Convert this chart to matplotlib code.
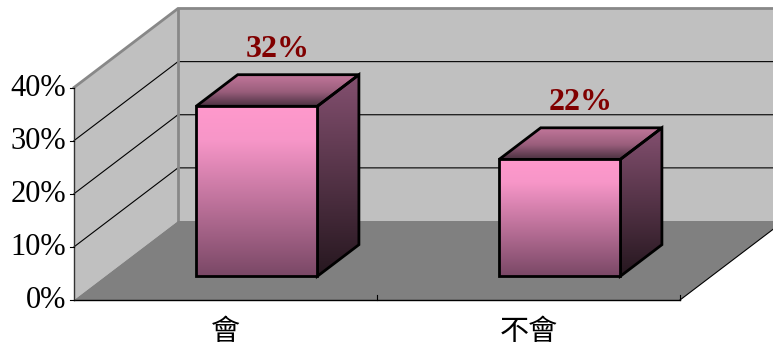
import numpy as np
import matplotlib
matplotlib.use("Agg")
import matplotlib.pyplot as plt
from matplotlib.patches import Polygon
from matplotlib.colors import to_rgb

# ---- data ----
categories = ["會", "不會"]
values = [32, 22]               # percent
value_labels = ["32%", "22%"]
y_ticks = [0, 10, 20, 30, 40]
y_tick_labels = ["0%", "10%", "20%", "30%", "40%"]
y_max = 40

# ---- layout of the pseudo-3D box (pixel space) ----
W, H = 773, 347
X0, Y0 = 74.0, 300.0            # front-left corner of the floor
PLOT_W = 606.0                  # width of the front floor edge
PX_PER_UNIT = 212.5 / y_max     # vertical pixels per percent
DEPTH_DX, DEPTH_DY = 104.0, -79.0
BAR_FRAC = 0.40                 # bar width as share of a category slot
BAR_D0, BAR_D1 = 0.30, 0.70     # bar depth span (0 = front, 1 = back)

WALL = "#C0C0C0"
FLOOR = "#808080"
EDGE_GRAY = "#888888"

fig = plt.figure(figsize=(W / 100, H / 100), dpi=100)
ax = fig.add_axes([0, 0, 1, 1])
ax.set_xlim(0, W)
ax.set_ylim(H, 0)
ax.axis("off")

slot = PLOT_W / len(categories)


def proj(x, v, d):
    """Map (front x, value, depth fraction) to pixel coordinates."""
    return (x + d * DEPTH_DX, Y0 - v * PX_PER_UNIT + d * DEPTH_DY)


def gradient_poly(pts, stops, zorder):
    """Fill a polygon with a vertical colour gradient (top -> bottom)."""
    poly = Polygon(pts, closed=True, facecolor="none", edgecolor="none")
    ax.add_patch(poly)
    ys = [p[1] for p in pts]
    xs = [p[0] for p in pts]
    n = 256
    t = np.linspace(0, 1, n)
    pos = [s[0] for s in stops]
    cols = np.array([to_rgb(s[1]) for s in stops])
    img = np.stack([np.interp(t, pos, cols[:, k]) for k in range(3)], axis=-1)
    img = img[:, None, :]
    im = ax.imshow(img, extent=(min(xs), max(xs), max(ys), min(ys)),
                   aspect="auto", interpolation="bilinear", zorder=zorder,
                   origin="upper")
    im.set_clip_path(poly)
    outline = Polygon(pts, closed=True, facecolor="none", edgecolor="black",
                      linewidth=2.0, joinstyle="miter", zorder=zorder + 0.1)
    ax.add_patch(outline)


# ---- walls ----
x_right = X0 + PLOT_W
back_wall = [proj(X0, 0, 1), proj(X0, y_max, 1),
             proj(x_right, y_max, 1), proj(x_right, 0, 1)]
side_wall = [proj(X0, 0, 0), proj(X0, y_max, 0),
             proj(X0, y_max, 1), proj(X0, 0, 1)]
ax.add_patch(Polygon(back_wall, closed=True, facecolor=WALL, edgecolor="none", zorder=1))
ax.add_patch(Polygon(side_wall, closed=True, facecolor=WALL, edgecolor="none", zorder=1))

# gridlines on both walls
for v in y_ticks[1:-1]:
    a, b, c = proj(X0, v, 0), proj(X0, v, 1), proj(x_right, v, 1)
    ax.plot([a[0], b[0], c[0]], [a[1], b[1], c[1]], color="black", lw=0.8, zorder=2)

# top and back edges of the walls
a, b, c = proj(X0, y_max, 0), proj(X0, y_max, 1), proj(x_right, y_max, 1)
ax.plot([a[0], b[0], c[0]], [a[1], b[1], c[1]], color=EDGE_GRAY, lw=2.0, zorder=2,
        solid_joinstyle="miter")
a, b = proj(X0, 0, 1), proj(X0, y_max, 1)
ax.plot([a[0], b[0]], [a[1], b[1]], color=EDGE_GRAY, lw=2.0, zorder=2)

# ---- floor ----
floor = [proj(X0, 0, 0), proj(X0, 0, 1), proj(x_right, 0, 1), proj(x_right, 0, 0)]
ax.add_patch(Polygon(floor, closed=True, facecolor=FLOOR, edgecolor="none", zorder=3))
a, b = proj(X0, 0, 0), proj(x_right, 0, 0)
ax.plot([a[0], b[0]], [a[1], b[1]], color="black", lw=1.0, zorder=4)
a, b = proj(x_right, 0, 0), proj(x_right, 0, 1)
ax.plot([a[0], b[0]], [a[1], b[1]], color="black", lw=0.8, zorder=4)

# category separators on the front edge
for i in range(1, len(categories) + 1):
    xt = X0 + i * slot
    ax.plot([xt, xt], [Y0, Y0 - 5], color="black", lw=0.8, zorder=4)

# ---- value axis ----
a, b = proj(X0, 0, 0), proj(X0, y_max, 0)
ax.plot([a[0], b[0]], [a[1], b[1]], color="#333333", lw=1.0, zorder=4)
for v, lab in zip(y_ticks, y_tick_labels):
    x, y = proj(X0, v, 0)
    ax.plot([x - 4, x], [y, y], color="black", lw=0.8, zorder=4)
    ax.text(x - 8, y + 1, lab, ha="right", va="center", fontsize=22,
            family="Liberation Serif", color="black", zorder=5)

# ---- bars ----
front_stops = [(0.0, "#FF99CC"), (0.2, "#F796C8"), (1.0, "#7A4866")]
top_stops = [(0.0, "#C4789C"), (0.55, "#9A5E7C"), (1.0, "#4C3242")]
side_stops = [(0.0, "#845070"), (1.0, "#26171F")]

for i, (cat, val, vlab) in enumerate(zip(categories, values, value_labels)):
    cx = X0 + (i + 0.5) * slot
    hw = BAR_FRAC * slot / 2
    xl, xr = cx - hw, cx + hw
    front = [proj(xl, val, BAR_D0), proj(xr, val, BAR_D0),
             proj(xr, 0, BAR_D0), proj(xl, 0, BAR_D0)]
    top = [proj(xl, val, BAR_D1), proj(xr, val, BAR_D1),
           proj(xr, val, BAR_D0), proj(xl, val, BAR_D0)]
    side = [proj(xr, val, BAR_D1), proj(xr, 0, BAR_D1),
            proj(xr, 0, BAR_D0), proj(xr, val, BAR_D0)]
    gradient_poly(side, side_stops, zorder=10)
    gradient_poly(top, top_stops, zorder=10)
    gradient_poly(front, front_stops, zorder=11)

    lx, ly = proj(cx, val, 0.5)
    ax.text(lx, ly - 41, vlab, ha="center", va="center", fontsize=23,
            fontweight="bold", family="Liberation Serif", color="#800000", zorder=12)

    ax.text(cx, 332, cat, ha="center", va="center", fontsize=21,
            family=["Noto Sans CJK TC", "DejaVu Sans"], color="black", zorder=12)

fig.savefig("out.png", dpi=100)
